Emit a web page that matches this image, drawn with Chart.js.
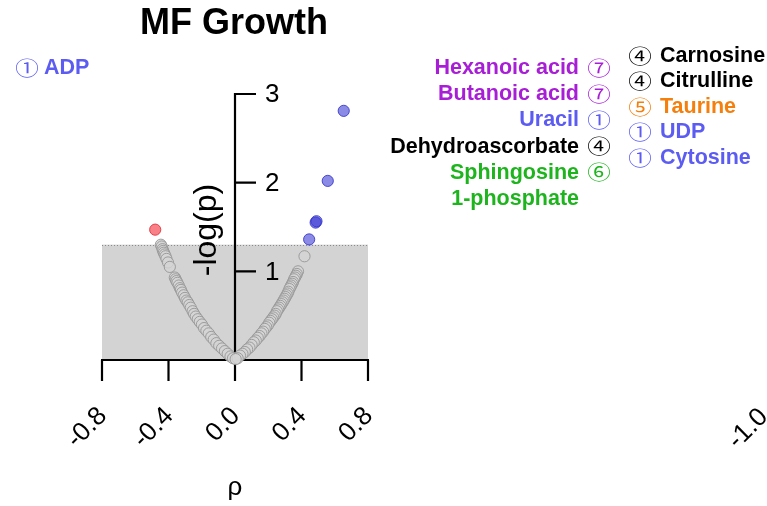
<!DOCTYPE html>
<html>
<head>
<meta charset="utf-8">
<script src="https://cdn.jsdelivr.net/npm/chart.js@4.4.1/dist/chart.umd.min.js"></script>
<style>
html,body{margin:0;padding:0;background:#fff;}
#wrap{width:767px;height:506px;}
</style>
</head>
<body>
<div id="wrap"><canvas id="c" width="767" height="506"></canvas></div>
<script>
// ---------------- data ----------------
const chartTitle = "MF Growth";
const xTitle = "ρ";
const yTitle = "-log(p)";
const xTicks = [-0.8, -0.4, 0.0, 0.4, 0.8];
const yTicks = [1, 2, 3];
const nextPanelTick = "-1.0";
const pThreshold = 1.301; // -log10(0.05)

// non-significant metabolites [rho, -log(p)]
const greyRho = [
  -0.446,-0.441,-0.436,-0.432,-0.428,-0.423,-0.418,-0.412,-0.403,-0.392,
  -0.362,-0.357,-0.352,-0.346,-0.338,-0.331,-0.325,-0.318,-0.309,-0.301,
  -0.292,-0.284,-0.275,-0.266,-0.255,-0.246,-0.236,-0.224,-0.212,-0.199,
  -0.186,-0.172,-0.158,-0.143,-0.128,-0.112,-0.095,-0.078,-0.061,-0.044,
  -0.027,-0.012,
  0.418,0.379,0.372,0.366,0.361,0.355,0.349,0.344,0.338,0.333,
  0.327,0.321,0.316,0.310,0.304,0.298,0.292,0.286,0.279,0.273,
  0.266,0.259,0.252,0.245,0.238,0.230,0.222,0.214,0.206,0.197,
  0.188,0.179,0.169,0.159,0.148,0.137,0.125,0.113,0.100,0.087,
  0.073,0.059,0.045,0.030,0.016,0.004
];
const greyLogP = [
  1.30,1.28,1.25,1.23,1.21,1.19,1.17,1.14,1.10,1.05,
  0.93,0.91,0.89,0.87,0.84,0.81,0.79,0.76,0.73,0.70,
  0.67,0.65,0.62,0.59,0.55,0.52,0.49,0.46,0.43,0.40,
  0.36,0.33,0.30,0.26,0.23,0.19,0.16,0.13,0.10,0.07,
  0.04,0.02,
  1.17,1.00,0.97,0.95,0.93,0.91,0.88,0.86,0.84,0.82,
  0.80,0.77,0.75,0.73,0.71,0.69,0.67,0.65,0.63,0.61,
  0.59,0.57,0.55,0.52,0.50,0.48,0.46,0.44,0.42,0.39,
  0.37,0.35,0.32,0.30,0.27,0.25,0.22,0.20,0.17,0.14,
  0.12,0.09,0.07,0.05,0.02,0.01
];
// significant negative correlation
const negRho = [-0.480];
const negLogP = [1.47];
// significant positive correlation
const posRho = [0.446, 0.485, 0.490, 0.558, 0.654];
const posLogP = [1.36, 1.55, 1.565, 2.02, 2.81];

// annotations: name and class number
const leftNames  = ["Hexanoic acid", "Butanoic acid", "Uracil", "Dehydroascorbate", "Sphingosine", "1-phosphate"];
const leftClass  = [7, 7, 1, 4, 6, 6];
const leftCircle = [true, true, true, true, true, false];
const rightNames = ["Carnosine", "Citrulline", "Taurine", "UDP", "Cytosine"];
const rightClass = [4, 4, 5, 1, 1];
const farNames = ["ADP"];
const farClass = [1];

// ---------------- styles ----------------
const circled = {1:"①",4:"④",5:"⑤",6:"⑥",7:"⑦"};
const classColor = {1:"#5c5cf2",4:"#000000",5:"#f57f0c",6:"#1eb41e",7:"#a81ed6"};

function pts(xs, ys){ return xs.map((x,i)=>({x:x, y:ys[i]})); }

const FONT = "'Liberation Sans', Arial, sans-serif";
const CIRC_FONT = "'Noto Sans CJK JP', 'DejaVu Sans', sans-serif";

function circ(ctx, ch, x, y){
  ctx.save();
  ctx.font = "20px " + CIRC_FONT;
  ctx.textAlign = "center"; ctx.textBaseline = "middle";
  ctx.translate(x, y); ctx.scale(1.18, 1);
  ctx.fillText(ch, 0, 0);
  ctx.restore();
}

const decor = {
  id: 'decor',
  beforeDatasetsDraw(chart){
    const ctx = chart.ctx, xs = chart.scales.x, ys = chart.scales.y;
    const x0 = xs.getPixelForValue(xTicks[0]), x1 = xs.getPixelForValue(xTicks[xTicks.length-1]);
    const yb = ys.getPixelForValue(0), yt = ys.getPixelForValue(pThreshold);
    ctx.save();
    ctx.fillStyle = "#d3d3d3";
    ctx.fillRect(x0, yt, x1-x0, yb-yt);
    ctx.strokeStyle = "#8a8a8a";
    ctx.lineWidth = 1;
    ctx.setLineDash([1,2]);
    ctx.beginPath(); ctx.moveTo(x0, Math.round(yt)+0.5); ctx.lineTo(x1, Math.round(yt)+0.5); ctx.stroke();
    ctx.setLineDash([]);
    ctx.strokeStyle = "#000"; ctx.lineWidth = 2.2; ctx.lineCap = "butt";
    const xz = xs.getPixelForValue(0);
    ctx.beginPath();
    ctx.moveTo(x0-1, yb); ctx.lineTo(x1+1, yb);
    ctx.moveTo(xz, yb); ctx.lineTo(xz, ys.getPixelForValue(yTicks[yTicks.length-1])-1);
    xTicks.forEach(v=>{ const p = xs.getPixelForValue(v); ctx.moveTo(p, yb); ctx.lineTo(p, yb+21); });
    yTicks.forEach(v=>{ const p = ys.getPixelForValue(v); ctx.moveTo(xz, p); ctx.lineTo(xz+21, p); });
    ctx.stroke();
    ctx.fillStyle = "#000";
    ctx.font = "32px " + FONT;
    ctx.textAlign = "center"; ctx.textBaseline = "middle";
    ctx.save(); ctx.translate(207, 230); ctx.rotate(-Math.PI/2); ctx.fillText(yTitle, 0, 0); ctx.restore();
    ctx.restore();
  },
  afterDraw(chart){
    const ctx = chart.ctx, xs = chart.scales.x, ys = chart.scales.y;
    const xz = xs.getPixelForValue(0), yb = ys.getPixelForValue(0);
    ctx.save();
    ctx.fillStyle = "#000";
    ctx.font = "26px " + FONT;
    ctx.textAlign = "left"; ctx.textBaseline = "middle";
    yTicks.forEach(v=>{ ctx.fillText(String(v), xz+30, ys.getPixelForValue(v)+1); });
    ctx.textAlign = "right"; ctx.textBaseline = "middle";
    xTicks.forEach(v=>{
      const p = xs.getPixelForValue(v);
      ctx.save(); ctx.translate(p+1, yb+52); ctx.rotate(-Math.PI/4);
      ctx.fillText(v.toFixed(1), 0, 0); ctx.restore();
    });
    ctx.save(); ctx.translate(xs.getPixelForValue(0.8) + 396, yb+53); ctx.rotate(-Math.PI/4);
    ctx.fillText(nextPanelTick, 0, 0); ctx.restore();
    ctx.textAlign = "center"; ctx.textBaseline = "alphabetic";
    ctx.fillText(xTitle, xz, 495);
    ctx.font = "bold 36px " + FONT;
    ctx.textBaseline = "middle";
    ctx.fillText(chartTitle, 234, 24);

    const LBL = "bold 21.5px " + FONT;
    leftNames.forEach((n,i)=>{
      const y = 68 + i*26.2;
      ctx.fillStyle = classColor[leftClass[i]];
      ctx.font = LBL; ctx.textAlign = "right"; ctx.textBaseline = "middle";
      ctx.fillText(n, 579, y);
      if (leftCircle[i]) circ(ctx, circled[leftClass[i]], 599, y);
    });
    rightNames.forEach((n,i)=>{
      const y = 56 + i*25.5;
      ctx.fillStyle = classColor[rightClass[i]];
      circ(ctx, circled[rightClass[i]], 640, y);
      ctx.font = LBL; ctx.textAlign = "left"; ctx.textBaseline = "middle";
      ctx.fillText(n, 660, y);
    });
    farNames.forEach((n,i)=>{
      const y = 68;
      ctx.fillStyle = classColor[farClass[i]];
      circ(ctx, circled[farClass[i]], 27, y);
      ctx.font = LBL; ctx.textAlign = "left"; ctx.textBaseline = "middle";
      ctx.fillText(n, 44, y);
    });
    ctx.restore();
  }
};

new Chart(document.getElementById('c'), {
  type: 'scatter',
  data: {
    datasets: [
      { label: 'ns', data: pts(greyRho, greyLogP), pointRadius: 5.6, borderWidth: 1,
        backgroundColor: 'rgba(212,212,212,0.8)', borderColor: 'rgba(150,150,150,0.9)', clip: false },
      { label: 'neg', data: pts(negRho, negLogP), pointRadius: 5.6, borderWidth: 1,
        backgroundColor: 'rgba(245,50,60,0.62)', borderColor: 'rgba(225,50,60,0.9)', clip: false },
      { label: 'pos', data: pts(posRho, posLogP), pointRadius: 5.6, borderWidth: 1,
        backgroundColor: 'rgba(55,55,210,0.58)', borderColor: 'rgba(50,50,205,0.85)', clip: false }
    ]
  },
  options: {
    responsive: false,
    devicePixelRatio: 1,
    animation: false,
    layout: { padding: { left: 102, right: 399, top: 94, bottom: 146 } },
    scales: {
      x: { type: 'linear', min: -0.8, max: 0.8, display: false },
      y: { type: 'linear', min: 0, max: 3, display: false }
    },
    plugins: { legend: { display: false }, tooltip: { enabled: false } },
    events: []
  },
  plugins: [decor]
});
</script>
</body>
</html>
